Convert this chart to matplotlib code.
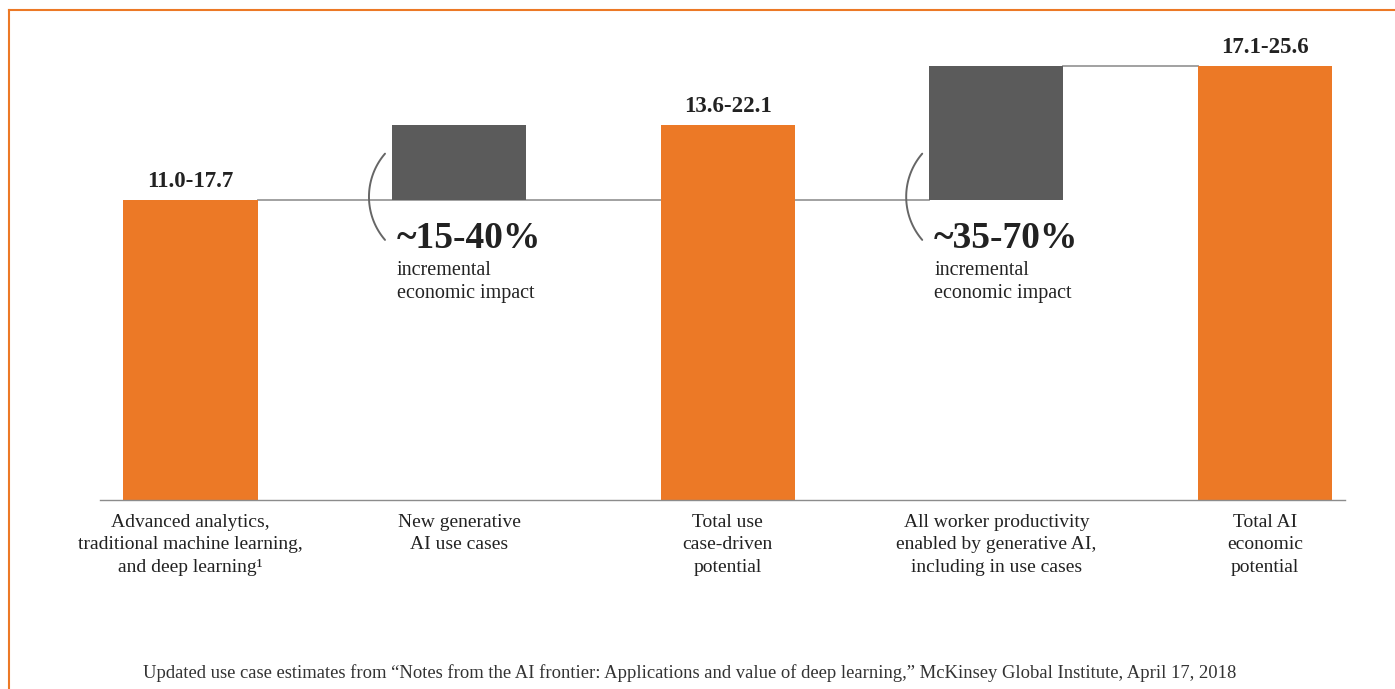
import numpy as np
import matplotlib
matplotlib.use("Agg")
import matplotlib.pyplot as plt
from matplotlib.lines import Line2D

# ---- data -------------------------------------------------------------
categories = [
    "Advanced analytics,\ntraditional machine learning,\nand deep learning\u00b9",
    "New generative\nAI use cases",
    "Total use\ncase-driven\npotential",
    "All worker productivity\nenabled by generative AI,\nincluding in use cases",
    "Total AI\neconomic\npotential",
]
bar_bottoms = [0.0, 17.7, 0.0, 17.7, 0.0]
bar_tops = [17.7, 22.1, 22.1, 25.6, 25.6]
is_total = [True, False, True, False, True]
value_labels = ["11.0-17.7", "", "13.6-22.1", "", "17.1-25.6"]
increment_labels = ["", "~15-40%", "", "~35-70%", ""]
increment_note = "incremental\neconomic impact"
source_note = ("Updated use case estimates from \u201cNotes from the AI frontier: Applications and value "
               "of deep learning,\u201d McKinsey Global Institute, April 17, 2018")

ORANGE = "#EC7926"
GRAY = "#5B5B5B"
LINE = "#9A9A9A"
TEXT = "#222222"
SERIF = "Liberation Serif"

W, H = 1395, 689
fig = plt.figure(figsize=(W / 100, H / 100), dpi=100)
fig.patch.set_facecolor("white")

# axes: baseline at y=500 px, spanning x=100..1345 px
ax_left, ax_right = 100, 1345
ax_base, ax_top = 500, 20
ax = fig.add_axes([ax_left / W, (H - ax_base) / H, (ax_right - ax_left) / W, (ax_base - ax_top) / H])
ax.set_xlim(-0.337, 4.298)
ax.set_ylim(0, 28.3)
ax.axis("off")

x = np.arange(len(categories))
heights = np.array(bar_tops) - np.array(bar_bottoms)
colors = [ORANGE if t else GRAY for t in is_total]
bw = 0.5
ax.bar(x, heights, bottom=bar_bottoms, width=bw, color=colors, zorder=3, linewidth=0)

# baseline
ax.plot([-0.337, 4.298], [0, 0], color="#8C8C8C", lw=1.0, zorder=4, clip_on=False)

# connector lines
ax.plot([x[0] + bw / 2, x[3] - bw / 2], [bar_tops[0], bar_tops[0]], color=LINE, lw=1.3, zorder=2)
ax.plot([x[3] + bw / 2, x[4] - bw / 2], [bar_tops[3], bar_tops[3]], color=LINE, lw=1.3, zorder=2)

# value labels on the totals
for xi, top, lab in zip(x, bar_tops, value_labels):
    if lab:
        ax.annotate(lab, (xi, top), xytext=(0, 13), textcoords="offset pixels",
                    ha="center", va="baseline", fontsize=16.5, fontweight="bold",
                    family=SERIF, color=TEXT)

# category labels
for xi, lab in zip(x, categories):
    ax.annotate(lab, (xi, 0), xytext=(0, -14), textcoords="offset pixels",
                ha="center", va="top", fontsize=14, family=SERIF, color=TEXT,
                linespacing=1.42, annotation_clip=False)

# increment annotations with bracket arcs
px_per_x = (ax_right - ax_left) / (4.298 + 0.337)
px_per_y = (ax_base - ax_top) / 28.3
R = 66.0
half = np.deg2rad(40.8)
t = np.linspace(np.pi - half, np.pi + half, 60)
for xi, bot, lab in zip(x, bar_bottoms, increment_labels):
    if not lab:
        continue
    left = xi - bw / 2
    ax.annotate(lab, (left, bot), xytext=(5, -48), textcoords="offset pixels",
                ha="left", va="baseline", fontsize=27, fontweight="bold",
                family=SERIF, color=TEXT)
    ax.annotate(increment_note, (left, bot), xytext=(5, -98), textcoords="offset pixels",
                ha="left", va="baseline", fontsize=14.5, family=SERIF, color=TEXT,
                linespacing=1.25)
    # "(" bracket: circle arc, leftmost point ~23 px left of the bar
    cx_px = -23 + R
    cy_px = 3
    ax_x = left + (cx_px + R * np.cos(t)) / px_per_x
    ax_y = bot + (cy_px + R * np.sin(t)) / px_per_y
    ax.plot(ax_x, ax_y, color="#666666", lw=1.4, zorder=2, solid_capstyle="round")

# source note
fig.text(690 / W, 1 - 678 / H, source_note, ha="center", va="baseline",
         fontsize=13.4, family=SERIF, color="#333333")

# orange frame (top and left edges)
fig.add_artist(Line2D([8.5 / W, 1.0], [1 - 9.5 / H, 1 - 9.5 / H], color=ORANGE, lw=1.5))
fig.add_artist(Line2D([8.5 / W, 8.5 / W], [0.0, 1 - 9.5 / H], color=ORANGE, lw=1.5))

fig.savefig("out.png", dpi=100, facecolor="white")
